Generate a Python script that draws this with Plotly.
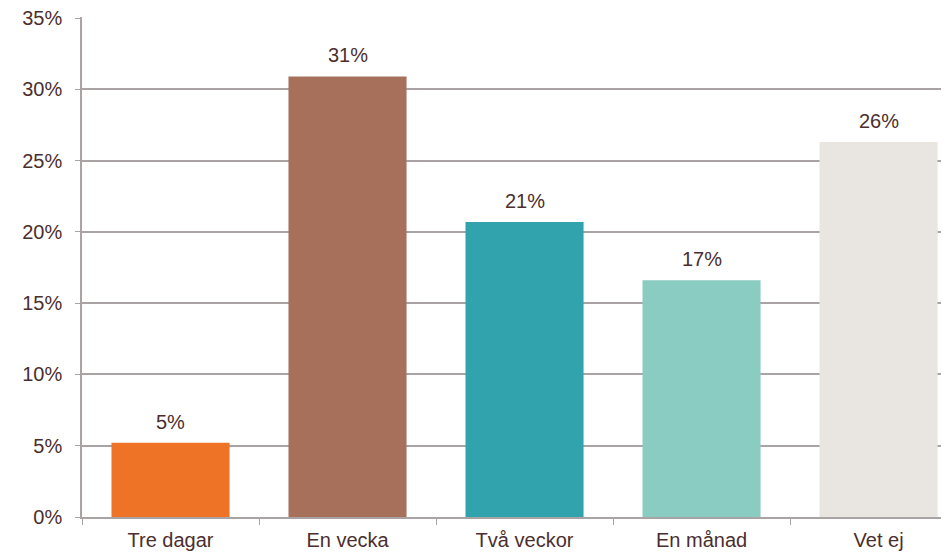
import plotly.graph_objects as go

categories = ["Tre dagar", "En vecka", "Två veckor", "En månad", "Vet ej"]
values = [5.2, 30.9, 20.7, 16.6, 26.3]
labels = ["5%", "31%", "21%", "17%", "26%"]
colors = ["#EE7326", "#A6705A", "#31A3AD", "#8ACCC2", "#E9E6E1"]
ytick_vals = [0, 5, 10, 15, 20, 25, 30, 35]
ytick_text = ["0%", "5%", "10%", "15%", "20%", "25%", "30%", "35%"]

text_color = "#4B2E2E"
grid_color = "#A9A3A3"
font = "Liberation Sans, Arial, sans-serif"

fig = go.Figure()
fig.add_trace(go.Bar(
    x=categories, y=values, marker=dict(color=colors, line=dict(width=0)),
    width=0.667, hoverinfo="skip",
))

for c, v, t in zip(categories, values, labels):
    fig.add_annotation(x=c, y=v, text=t, showarrow=False, yanchor="bottom",
                       yshift=8, font=dict(size=20, color=text_color, family=font))

# page body has an 8px default margin; compensate
fig.update_layout(
    width=941, height=547,
    margin=dict(l=74, r=0, t=9, b=38),
    paper_bgcolor="white", plot_bgcolor="white",
    showlegend=False,
    font=dict(family=font, size=20, color=text_color),
    xaxis=dict(
        range=[-0.5, 4.398], type="category", automargin=False,
        showline=True, linecolor=grid_color, linewidth=1.5,
        ticks="outside", tickson="boundaries", ticklen=6, tickcolor=grid_color,
        ticklabelstandoff=4,
        showgrid=False, tickfont=dict(size=20, color=text_color, family=font),
    ),
    yaxis=dict(
        range=[0, 35.07], tickvals=ytick_vals, ticktext=ytick_text, automargin=False,
        showline=True, linecolor=grid_color, linewidth=1.5,
        ticks="outside", ticklen=5, tickcolor=grid_color,
        ticklabelstandoff=9, ticklabeloverflow="allow",
        showgrid=True, gridcolor=grid_color, gridwidth=1.5,
        zeroline=False, tickfont=dict(size=20, color=text_color, family=font),
    ),
)

fig.write_html("out.html")
